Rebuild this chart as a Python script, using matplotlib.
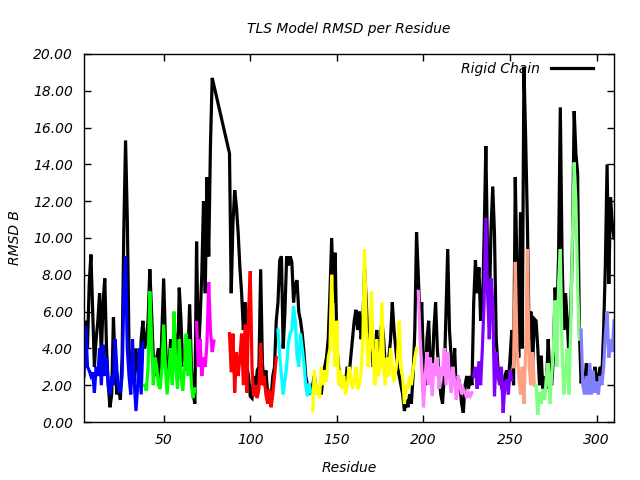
import matplotlib
matplotlib.use('Agg')
import matplotlib.pyplot as plt
from matplotlib.ticker import FormatStrFormatter

# first residue of each TLS group
group_start = [4, 39, 69, 88, 116, 136, 197, 229, 252, 265, 291]
group_color = ['#0000ff', '#00ff00', '#ff00ff', '#ff0000', '#00ffff', '#ffff00',
               '#ff80ff', '#8000ff', '#ffa080', '#80ff80', '#8080ff']

# rigid chain RMSD, split at the TLS group boundaries
rigid_1 = [5.0, 5.5, 4.0, 7.5, 9.1, 6.0, 3.0, 4.5, 5.5, 7.0, 3.5, 6.5, 7.8, 4.0, 2.0, 0.8, 1.5, 5.7,
           3.0, 1.5, 2.0, 1.2, 3.5, 10.5, 15.3, 11.0, 4.0, 2.5, 3.5, 2.2, 4.0, 3.0, 2.0, 4.5, 5.5]
rigid_2 = [4.0, 4.5, 5.5, 8.3, 6.0, 3.5, 2.5, 3.5, 4.0, 2.0, 5.0, 7.8, 4.5, 2.2, 3.0, 4.5, 3.5, 5.0,
           4.5, 3.0, 7.3, 5.5, 3.0, 3.5, 2.8, 3.5, 6.4, 3.0, 1.5, 1.0]
rigid_3 = [9.8, 3.5, 5.5, 8.0, 12.0, 7.0, 13.3, 9.0, 15.0, 18.7, 18.3]
rigid_4 = [14.6, 7.0, 10.8, 12.6, 11.7, 10.3, 8.4, 7.0, 5.0, 6.5, 3.0, 2.5, 1.4, 1.3, 2.5, 1.5, 2.8,
           3.0, 8.3, 3.2, 2.0, 2.8, 1.6, 1.2, 1.3, 2.5, 3.0, 5.5]
rigid_5 = [6.5, 8.8, 9.0, 4.0, 6.0, 9.0, 8.5, 9.0, 8.7, 6.5, 7.5, 7.7, 6.0, 5.5, 4.8, 3.8, 2.5, 2.0,
           1.5, 1.8]
rigid_6 = [2.0, 2.5, 1.8, 1.5, 2.0, 1.5, 2.5, 3.0, 3.5, 4.5, 7.0, 10.0, 6.5, 9.2, 4.0, 3.0, 2.0, 2.5,
           2.0, 2.2, 3.0, 2.5, 3.5, 4.5, 5.5, 6.1, 5.0, 6.0, 4.5, 5.5, 8.3, 6.5, 4.0, 5.0, 4.0, 3.0,
           3.5, 5.0, 3.0, 4.5, 5.5, 4.5, 3.0, 2.5, 3.5, 4.5, 6.5, 5.0, 4.0, 3.0, 2.5, 2.0, 1.5, 0.6,
           1.2, 0.8, 1.5, 1.0, 2.5, 5.0, 10.3]
rigid_7 = [8.0, 5.5, 6.5, 3.0, 2.0, 4.5, 5.5, 3.0, 2.5, 5.0, 6.5, 4.0, 2.5, 1.5, 1.0, 2.5, 6.0, 9.4,
           5.0, 3.5, 2.0, 4.0, 1.5, 2.5, 2.0, 1.0, 0.5, 2.0, 2.5, 1.8, 2.5, 2.0]
rigid_8 = [6.5, 8.8, 7.0, 8.4, 5.5, 6.0, 10.0, 15.0, 9.0, 6.0, 10.5, 12.8, 10.2, 4.5, 3.0, 2.5, 2.0,
           1.5, 2.5, 2.8, 2.2, 3.5, 5.0]
rigid_9 = [2.0, 13.3, 8.0, 3.5, 11.4, 4.0, 19.3, 15.4, 10.8, 4.5, 6.0, 3.0, 5.6]
rigid_10 = [5.5, 4.0, 2.0, 3.6, 1.5, 2.5, 1.8, 4.5, 2.5, 2.0, 3.5, 7.3, 5.5, 9.0, 17.1, 9.0, 5.0, 7.0,
            5.5, 3.5, 6.0, 9.5, 16.9, 14.6, 13.5, 5.0]
rigid_11 = [2.1, 2.5, 1.8, 3.2, 2.0, 2.5, 1.6, 2.2, 3.0, 1.8, 2.5, 3.0, 2.5, 5.0, 8.5, 14.0, 7.5,
            12.2, 10.8, 10.0]

# TLS model RMSD per group
tls_1 = [2.5, 5.2, 3.0, 2.8, 2.5, 2.7, 1.6, 3.0, 2.5, 4.0, 2.0, 4.2, 2.5, 3.5, 2.0, 1.5, 2.5, 2.0,
         4.5, 2.8, 1.8, 1.6, 2.5, 6.8, 9.0, 4.0, 2.5, 1.5, 4.5, 2.2, 0.6, 2.0, 4.0, 1.5, 4.3]
tls_2 = [2.0, 1.7, 3.0, 7.1, 4.5, 2.0, 3.5, 3.0, 2.0, 1.8, 3.0, 5.3, 3.0, 1.5, 2.8, 4.0, 2.0, 6.0,
         3.0, 1.8, 4.5, 2.5, 1.7, 3.0, 4.8, 2.5, 4.5, 2.0, 1.3, 1.8]
tls_3 = [5.4, 3.0, 4.5, 2.5, 3.5, 3.0, 4.3, 7.6, 5.0, 3.8, 4.4]
tls_4 = [4.8, 2.7, 4.8, 1.6, 3.8, 2.5, 3.5, 4.8, 2.0, 5.3, 1.6, 6.0, 8.2, 3.0, 1.4, 2.0, 1.3, 1.8,
         4.3, 2.0, 2.5, 1.5, 1.0, 1.8, 0.8, 1.5, 2.5, 3.5]
tls_5 = [5.0, 3.6, 2.5, 1.5, 2.3, 3.0, 4.3, 4.8, 5.0, 6.3, 5.5, 3.6, 3.0, 4.8, 4.0, 3.2, 2.0, 1.4,
         2.1, 1.6]
tls_6 = [0.6, 2.8, 1.5, 2.0, 1.3, 3.0, 2.0, 2.8, 2.2, 3.5, 4.0, 8.0, 5.0, 3.0, 5.5, 2.0, 2.8, 1.8,
         2.5, 1.5, 2.0, 3.0, 2.5, 1.8, 2.2, 3.0, 1.8, 2.0, 2.8, 4.5, 9.4, 5.0, 3.0, 4.0, 7.1, 3.5,
         2.0, 4.5, 2.5, 3.0, 6.5, 3.0, 2.0, 3.5, 2.5, 4.0, 3.0, 2.2, 2.8, 3.5, 5.5, 3.0, 2.5, 1.0,
         2.0, 1.8, 2.5, 2.0, 2.8, 3.5, 4.0]
tls_7 = [7.1, 4.6, 3.0, 0.8, 2.5, 3.8, 2.0, 3.5, 1.4, 3.2, 2.5, 3.5, 1.8, 3.0, 2.5, 4.0, 2.0, 3.8,
         2.5, 1.6, 3.0, 2.2, 1.2, 2.5, 2.0, 1.5, 1.8, 1.6, 1.3, 1.6, 1.4, 1.6]
tls_8 = [2.5, 3.0, 1.8, 3.3, 2.0, 4.0, 6.5, 11.1, 7.0, 4.5, 7.8, 6.5, 1.4, 3.8, 2.5, 2.0, 3.0, 0.5,
         2.0, 2.3, 1.5, 2.8, 2.3]
tls_9 = [3.0, 8.7, 4.0, 2.5, 1.5, 3.0, 1.0, 4.0, 9.4, 3.0, 2.0, 3.8, 2.0]
tls_10 = [2.0, 0.4, 1.6, 1.0, 1.8, 1.2, 2.5, 3.2, 1.0, 2.5, 4.0, 6.6, 3.0, 7.5, 9.4, 4.0, 1.5, 2.5,
          4.0, 1.5, 5.0, 10.0, 14.1, 12.0, 7.3, 4.5]
tls_11 = [5.0, 2.0, 1.5, 2.5, 1.5, 3.2, 1.5, 2.8, 1.6, 2.2, 1.5, 2.5, 2.0, 3.0, 4.7, 6.0, 3.5, 4.5,
          3.8, 5.5]

rigid_groups = [rigid_1, rigid_2, rigid_3, rigid_4, rigid_5, rigid_6, rigid_7, rigid_8, rigid_9,
                rigid_10, rigid_11]
tls_groups = [tls_1, tls_2, tls_3, tls_4, tls_5, tls_6, tls_7, tls_8, tls_9, tls_10, tls_11]

fig = plt.figure(figsize=(6.4, 4.8), dpi=100)
ax = fig.add_axes([84 / 640, 58 / 480, 530 / 640, 368 / 480])

# rigid chain as one line over all residues
res_all, rig_all = [], []
for start, vals in zip(group_start, rigid_groups):
    res_all += [start + i for i in range(len(vals))]
    rig_all += vals
ax.plot(res_all, rig_all, color='black', lw=2.3, label='Rigid Chain', solid_joinstyle='miter')

for start, vals, col in zip(group_start, tls_groups, group_color):
    res = [start + i for i in range(len(vals))]
    ax.plot(res, vals, color=col, lw=2.3, solid_joinstyle='miter')

ax.set_xlim(4, 310)
ax.set_ylim(0, 20)
ax.set_xticks([50, 100, 150, 200, 250, 300])
ax.set_yticks([0, 2, 4, 6, 8, 10, 12, 14, 16, 18, 20])
ax.yaxis.set_major_formatter(FormatStrFormatter('%.2f'))
ax.tick_params(direction='in', top=True, right=True, length=5, width=1, labelsize=10, pad=8)
for lab in ax.get_xticklabels() + ax.get_yticklabels():
    lab.set_fontstyle('italic')
for s in ax.spines.values():
    s.set_linewidth(1)

ax.set_title('TLS Model RMSD per Residue', fontsize=10, fontstyle='italic', pad=15)
ax.set_xlabel('Residue', fontsize=10, fontstyle='italic', labelpad=10)
ax.set_ylabel('RMSD B', fontsize=10, fontstyle='italic', labelpad=8)

leg = ax.legend(loc='upper right', bbox_to_anchor=(1 - 13 / 530, 1.0), frameon=False,
                markerfirst=False, handlelength=3.0, borderaxespad=0.2,
                prop={'style': 'italic', 'size': 10})

fig.savefig('out.png', dpi=100)
